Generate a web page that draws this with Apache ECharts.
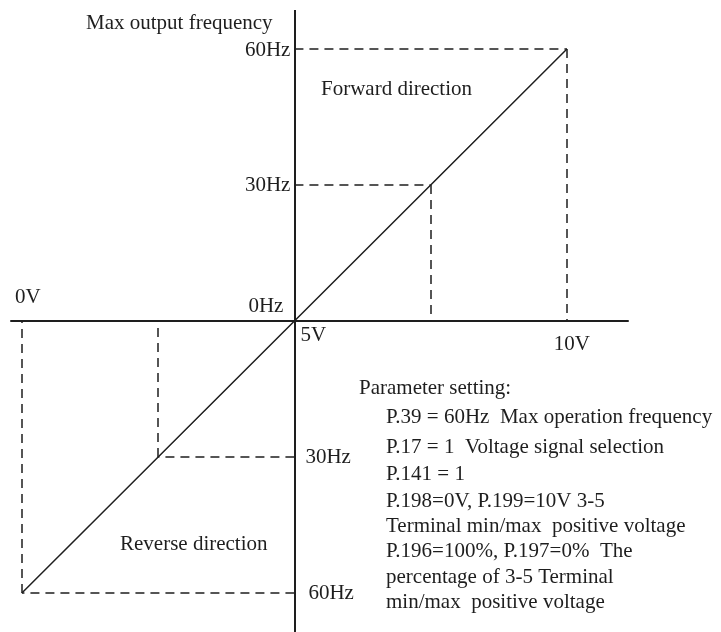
<!DOCTYPE html>
<html>
<head>
<meta charset="utf-8">
<script src="https://cdn.jsdelivr.net/npm/echarts@6.0.0/dist/echarts.min.js"></script>
<style>
  html, body { margin: 0; padding: 0; background: #fff; }
  #chart { width: 721px; height: 632px; }
</style>
</head>
<body>
<div id="chart"></div>
<script>
// characteristic: input voltage (V) -> output frequency (Hz, reverse is negative)
const voltage = [0, 2.5, 5, 7.5, 10]
const frequency = [-60, -30, 0, 30, 60]
const centerVolt = 5

// tick labels
const voltTicks = [0, 5, 10]
const voltLabels = ['0V', '5V', '10V']
const freqTicks = [60, 30, 0, -30, -60]
const freqLabels = ['60Hz', '30Hz', '0Hz', '30Hz', '60Hz']

const paramLines = [
  'P.39 = 60Hz  Max operation frequency',
  'P.17 = 1  Voltage signal selection',
  'P.141 = 1',
  'P.198=0V, P.199=10V 3-5',
  'Terminal min/max  positive voltage',
  'P.196=100%, P.197=0%  The',
  'percentage of 3-5 Terminal',
  'min/max  positive voltage'
]

const font = 'Liberation Serif, Times New Roman, serif'
const ink = '#1e1e1e'

// label placement (styles only)
const voltLabelStyle = [
  { position: 'inside', offset: [6, -24] },
  { position: 'right', distance: 6, offset: [0, 14] },
  { position: 'inside', offset: [5, 23] }
]
const freqLabelStyle = [
  { position: 'left', distance: 4, offset: [0, 1] },
  { position: 'left', distance: 4, offset: [0, 0] },
  { position: 'left', distance: 11, offset: [0, -14.5] },
  { position: 'right', distance: 11, offset: [0, 0] },
  { position: 'right', distance: 14, offset: [0, 0] }
]
const paramY = [417, 447, 474, 501, 526, 551, 577, 602]

// dashed guides from each point back to the axes
const guides = []
voltage.forEach((v, i) => {
  const f = frequency[i]
  if (v === centerVolt) return
  guides.push([{ coord: [centerVolt, f] }, { coord: [v, f] }])
  guides.push([{ coord: [v, f] }, { coord: [v, 0] }])
})

const tickPoints = []
voltTicks.forEach((v, i) => {
  tickPoints.push({
    value: [v, 0],
    label: { formatter: voltLabels[i], ...voltLabelStyle[i] }
  })
})
freqTicks.forEach((f, i) => {
  tickPoints.push({
    value: [centerVolt, f],
    label: { formatter: freqLabels[i], ...freqLabelStyle[i] }
  })
})

const textStyle = { fill: ink, fontFamily: font, fontSize: 21, verticalAlign: 'middle', align: 'left' }

const graphic = [
  { type: 'text', x: 86, y: 23.5, style: { ...textStyle, text: 'Max output frequency' } },
  { type: 'text', x: 321, y: 89, style: { ...textStyle, text: 'Forward direction' } },
  { type: 'text', x: 120, y: 544.5, style: { ...textStyle, text: 'Reverse direction' } },
  { type: 'text', x: 359, y: 388, style: { ...textStyle, text: 'Parameter setting:' } }
].concat(paramLines.map((t, i) => ({
  type: 'text', x: 386, y: paramY[i], style: { ...textStyle, text: t }
})))

const chart = echarts.init(document.getElementById('chart'), null, { renderer: 'canvas' })

chart.setOption({
  animation: false,
  backgroundColor: '#fff',
  grid: { left: 11, right: 93, top: 10, bottom: 0 },
  xAxis: {
    type: 'value',
    min: -0.2,
    max: 11.12,
    axisLine: { show: true, onZero: true, lineStyle: { color: ink, width: 2 } },
    axisTick: { show: false },
    axisLabel: { show: false },
    splitLine: { show: false }
  },
  yAxis: {
    type: 'value',
    min: -68.6,
    max: 68.6,
    axisLine: { show: false },
    axisTick: { show: false },
    axisLabel: { show: false },
    splitLine: { show: false }
  },
  series: [
    {
      type: 'line',
      data: voltage.map((v, i) => [v, frequency[i]]),
      symbol: 'none',
      lineStyle: { color: ink, width: 1.5 },
      silent: true,
      markLine: {
        silent: true,
        symbol: ['none', 'none'],
        label: { show: false },
        lineStyle: { color: ink, width: 1.5, type: [9, 6] },
        data: guides
      },
      z: 3
    },
    {
      // vertical (frequency) axis through the 5V point
      type: 'line',
      data: [],
      markLine: {
        silent: true,
        symbol: ['none', 'none'],
        label: { show: false },
        lineStyle: { color: ink, width: 2, type: 'solid' },
        data: [{ xAxis: centerVolt }]
      }
    },
    {
      type: 'scatter',
      symbolSize: 0,
      silent: true,
      itemStyle: { opacity: 1 },
      data: tickPoints,
      label: {
        show: true,
        color: ink,
        opacity: 1,
        fontFamily: font,
        fontSize: 21
      }
    }
  ],
  graphic: graphic
})
</script>
</body>
</html>
